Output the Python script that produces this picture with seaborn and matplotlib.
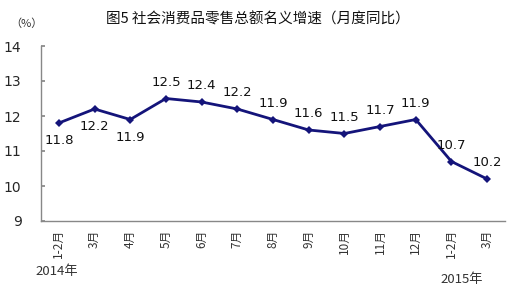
import matplotlib
matplotlib.use("Agg")
import matplotlib.pyplot as plt
import seaborn as sns
import pandas as pd

months = ["1-2月", "3月", "4月", "5月", "6月", "7月", "8月", "9月", "10月", "11月", "12月", "1-2月", "3月"]
values = [11.8, 12.2, 11.9, 12.5, 12.4, 12.2, 11.9, 11.6, 11.5, 11.7, 11.9, 10.7, 10.2]
label_below = [True, True, True, False, False, False, False, False, False, False, False, False, False]
yticks = [9, 10, 11, 12, 13, 14]
title = "图5 社会消费品零售总额名义增速（月度同比）"

sns.set_theme(style="white")
plt.rcParams['font.family'] = ['Noto Sans CJK SC', 'DejaVu Sans']

df = pd.DataFrame({"x": list(range(len(months))), "v": values})

fig = plt.figure(figsize=(5.26, 2.91), dpi=100)
ax = fig.add_axes([41/526, 1 - 221/291, (505-41)/526, (221-46)/291])
sns.lineplot(data=df, x="x", y="v", ax=ax, color="#14147a", linewidth=2,
             marker="D", markersize=4.5, markeredgewidth=0, markerfacecolor="#14147a")

for i, (v, b) in enumerate(zip(values, label_below)):
    if b:
        ax.annotate(f"{v}", (i, v), xytext=(0, -8), textcoords="offset points",
                    ha="center", va="top", fontsize=9.5, color="#111111", family="DejaVu Sans")
    else:
        ax.annotate(f"{v}", (i, v), xytext=(0, 7), textcoords="offset points",
                    ha="center", va="bottom", fontsize=9.5, color="#111111", family="DejaVu Sans")

ax.set_xlim(-0.5, len(months) - 0.5)
ax.set_ylim(9, 14)
ax.set_yticks(yticks)
ax.set_yticklabels([str(t) for t in yticks], fontsize=10, family="DejaVu Sans")
ax.set_xticks(range(len(months)))
ax.set_xticklabels(months, rotation=90, fontsize=8.5, color="#333333")
ax.set_xlabel("")
ax.set_ylabel("")
for s in ["top", "right"]:
    ax.spines[s].set_visible(False)
for s in ["left", "bottom"]:
    ax.spines[s].set_color("#888888")
    ax.spines[s].set_linewidth(1)
ax.tick_params(axis="y", direction="in", length=3, color="#888888", left=True, pad=14)
ax.tick_params(axis="x", length=0, pad=6)

fig.text(258/526, 1 - 19/291, title, ha="center", va="center", fontsize=10.5, color="#111111")
fig.text(10/526, 1 - 24/291, "（%）", ha="left", va="center", fontsize=8, color="#333333")
fig.text(35/526, 1 - 272/291, "2014年", ha="left", va="center", fontsize=9.5, color="#333333")
fig.text(440/526, 1 - 279/291, "2015年", ha="left", va="center", fontsize=9.5, color="#333333")

fig.savefig("out.png", dpi=100)
